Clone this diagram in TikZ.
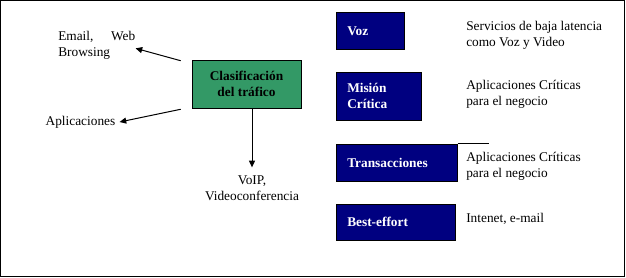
\documentclass[tikz,border=0pt]{standalone}
\usepackage{fontspec}
\setmainfont{Liberation Serif}
\usepackage{xcolor}
\usetikzlibrary{arrows.meta,positioning,calc}

\definecolor{clasgreen}{HTML}{339966}
\definecolor{qnavy}{HTML}{000080}

\tikzset{
    qbox/.style={draw=black, fill=qnavy, text=white, font=\bfseries, anchor=north west, align=left, inner xsep=8.25pt, inner ysep=0pt},
    qtext/.style={anchor=west, align=left, inner sep=0pt},
    arr/.style={-{Triangle[length=5pt,width=4.5pt]}, line width=0.75pt}
}

\begin{document}
\begin{tikzpicture}[x=0.75pt, y=-0.75pt, font=\fontsize{10}{12}\selectfont]
        % Frame
        \useasboundingbox (0,0) rectangle (626,278);
        \draw[line width=1pt] (0.7,0.7) rectangle (624.3,276.3);

        % Classification box
        \node[draw=black, fill=clasgreen, font=\bfseries, align=center, minimum width=81.75pt, minimum height=36pt, inner sep=0pt] (clas) at (246.5,84) {Clasificaci\'on\\del tr\'afico};

        % Left side texts
        \node[anchor=north west, text width=57.75pt, align=left, inner sep=0pt] (email) at (58,31) {Email,\hfill Web\\Browsing};
        \node[inner sep=3pt] (aplic) at (80.5,122) {Aplicaciones};
        \node[align=center, inner sep=0pt, anchor=north] (voip) at (252,176) {VoIP,\\Videoconferencia};

        % Arrows
        \coordinate (c1) at ([shift={(-11,1)}]clas.north west);
        \coordinate (c2) at ([shift={(-11,1)}]clas.south west);
        \draw[arr] (c1) -- ([shift={(0,3)}]email.east);
        \draw[arr] (c2) -- (aplic.east);
        \draw[arr] (voip.north |- clas.south) -- ([yshift=6.5pt]voip.north);

        % Traffic classes
        \node[qbox, text width=34.5pt, minimum height=27.75pt] (voz) at (336,12) {Voz};
        \node[qbox, text width=47.25pt, minimum height=36pt] (mision) at (336,72) {Misi\'on\\Cr\'itica};
        \node[qbox, text width=74.25pt, minimum height=27.75pt] (trans) at (336,144) {Transacciones};
        \node[qbox, text width=72.75pt, minimum height=27pt] (best) at (336,204) {Best-effort};
        \draw[line width=0.75pt] (trans.north east) -- ++(31,0);

        % Descriptions
        \node[qtext] (vozd) at (466,35) {Servicios de baja latencia\\como Voz y Video};
        \node[qtext] (misiond) at (466,94) {Aplicaciones Cr\'iticas\\para el negocio};
        \node[qtext] (transd) at (466,166) {Aplicaciones Cr\'iticas\\para el negocio};
        \node[qtext] (bestd) at (466,219) {Intenet, e-mail};
\end{tikzpicture}
\end{document}
